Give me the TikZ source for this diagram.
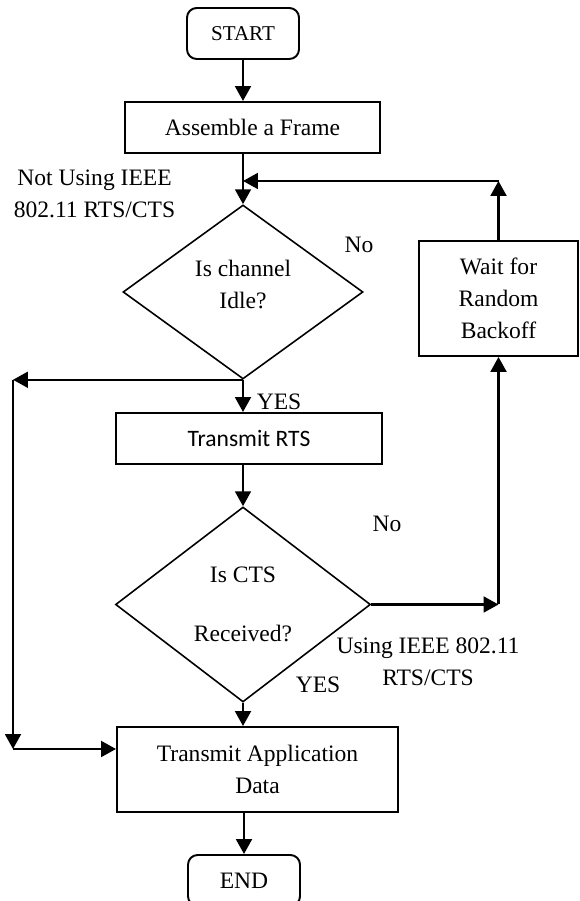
\documentclass[tikz,border=0pt]{standalone}
\usepackage{fontspec}
\setmainfont{Liberation Serif}
\newfontfamily\calibrifont{Carlito}
\usetikzlibrary{shapes.geometric,arrows.meta,positioning}

\begin{document}
\begin{tikzpicture}[line width=1.1pt,font=\fontsize{13.4pt}{18.2pt}\selectfont,
    flow/.style={draw,line width=1.1pt,align=center,inner sep=2pt},
    terminal/.style={flow,rounded corners=5.5pt,minimum width=2.24cm,minimum height=1.02cm},
    decision/.style={draw,diamond,line width=0.9pt,align=center,inner sep=1pt},
    arr/.style={line width=1.4pt,-{Triangle[length=8.5pt,width=9pt]}},
    note/.style={align=center}]
  \useasboundingbox (0,0) rectangle (11.58,18.02);

  % main column
  \node[terminal,font=\fontsize{12pt}{14pt}\selectfont] (start) at (4.86,17.35) {START};
  \node[flow,minimum width=5.1cm,minimum height=1.02cm] (frame) at (5.05,15.47) {Assemble a Frame};
  \node[decision,minimum width=4.8cm,minimum height=3.48cm] (idle) at (4.86,12.18) {Is channel\\Idle?\rule[-9pt]{0pt}{9pt}};
  \node[flow,minimum width=5.32cm,minimum height=1.02cm] (rts) at (4.98,9.25) {\calibrifont Transmit RTS};
  \node[decision,minimum width=5.1cm,minimum height=3.9cm] (cts) at (4.86,5.93) {Is CTS\\[15pt]Received?};
  \node[flow,minimum width=5.62cm,minimum height=1.7cm] (data) at (5.15,2.63) {Transmit Application\\Data};
  \node[terminal] (end) at (4.88,0.41) {END};

  % backoff branch
  \node[flow,minimum width=3.18cm,minimum height=2.3cm] (backoff) at (9.97,12.05) {Wait for\\Random\\Backoff};

  % labels
  \node[note] (notrts) at (1.89,14.15) {Not Using IEEE\\802.11 RTS/CTS};
  \node (noidle) at (7.18,13.12) {No};
  \node (yesidle) at (5.58,9.98) {YES};
  \node (nocts) at (7.74,7.54) {No};
  \node[note] (userts) at (8.56,4.78) {Using IEEE 802.11\\RTS/CTS};
  \node (yescts) at (6.36,4.32) {YES};

  \coordinate (loop) at (9.97,14.4);
  \coordinate (bend) at (backoff.south |- cts.east);
  \coordinate (lx) at (0.26,0);
  \coordinate (ldown) at (0.26,3.04);

  \draw[arr] (start.south) -- (start.south |- frame.north);
  \draw[arr] (frame.south -| idle.north) -- (idle.north);
  \draw[arr] (backoff.north) -- (loop);
  \draw[arr] (loop) -- (loop -| idle.north);
  \draw[arr] (idle.south) -- (idle.south |- rts.north);
  \draw[arr] (idle.south) -- (idle.south -| lx);
  \draw[arr] (idle.south -| lx) -- (ldown);
  \draw[arr] (ldown) -- (ldown -| data.west);
  \draw[arr] (rts.south -| cts.north) -- (cts.north);
  \draw[arr] (cts.east) -- (bend);
  \draw[arr] (bend) -- (backoff.south);
  \draw[arr] (cts.south) -- (cts.south |- data.north);
  \draw[arr] (data.south -| end.north) -- (end.north);
\end{tikzpicture}
\end{document}
